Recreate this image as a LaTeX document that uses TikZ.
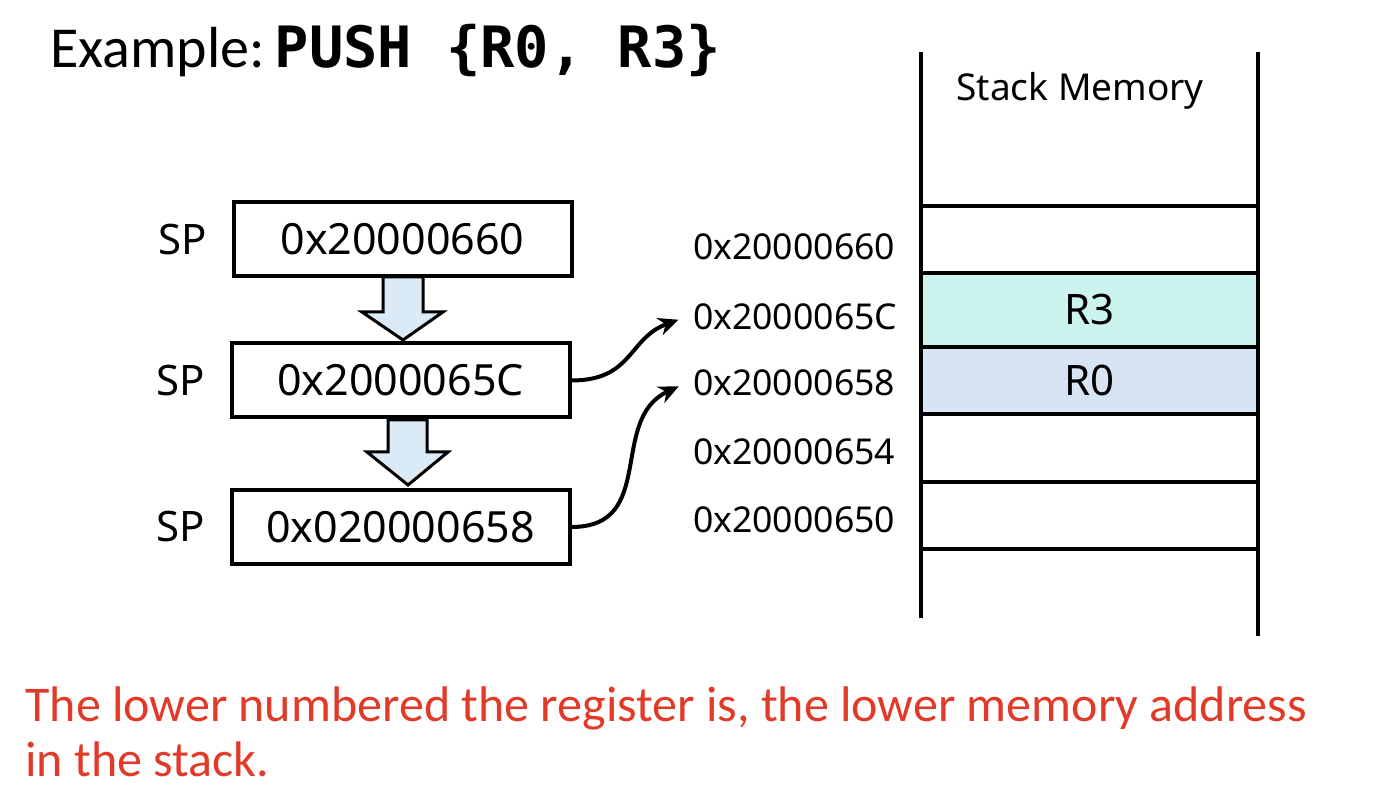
\documentclass[tikz,border=0pt]{standalone}
\usepackage{fontspec}
\setmainfont{Noto Sans}
\newfontfamily\notefont{Carlito}
\setmonofont{DejaVu Sans Mono}
\usetikzlibrary{arrows.meta}
\definecolor{noteRed}{RGB}{226,58,40}
\definecolor{arrowBlue}{RGB}{218,235,247}
\definecolor{cellCyan}{RGB}{204,243,238}
\definecolor{cellBlue}{RGB}{214,228,243}

\begin{document}
\begin{tikzpicture}[x=0.5pt,y=-0.5pt,
  spbox/.style={draw,line width=2pt,minimum width=169pt,minimum height=37pt,font=\fontsize{21.5}{25}\selectfont},
  cell/.style={draw,line width=2pt,minimum width=168.5pt,inner sep=0pt,font=\fontsize{21}{25}\selectfont},
  addr/.style={anchor=west,font=\fontsize{17.8}{21}\selectfont},
  splabel/.style={font=\fontsize{21}{25}\selectfont},
  pusharrow/.style={draw,line width=1.5pt,fill=arrowBlue,line join=miter},
  ptr/.style={line width=2pt,-{Stealth[length=10pt,width=9pt]},shorten >=4pt}]
\useasboundingbox (0,0) rectangle (1388,796);

% Title
\node[anchor=base west,inner sep=0pt] (title) at (50,68)
  {\notefont\fontsize{29}{34}\selectfont Example:\,\texttt{\bfseries\fontsize{28.5}{32}\selectfont PUSH {\{}R0, R3{\}}}};

% SP steps
\draw[pusharrow] (383,277) -- (423,277) -- (423,312) -- (443,312) -- (403,340) -- (362,312) -- (383,312) -- cycle;
\draw[pusharrow] (388,420) -- (427,420) -- (427,452) -- (448,452) -- (408,485) -- (367,452) -- (388,452) -- cycle;
\node[spbox] (b1) at (402.5,239.5) {0x20000660};
\node[spbox] (b2) at (400.5,380.5) {0x2000065C};
\node[spbox] (b3) at (400.5,527) {0x020000658};
\node[splabel] (sp1) at (183,240) {SP};
\node[splabel] (sp2) at (181,381) {SP};
\node[splabel] (sp3) at (181,527) {SP};

% Stack
\draw[line width=2pt] (921,52) -- (921,618);
\draw[line width=2pt] (1258,52) -- (1258,636);
\node[font=\fontsize{18.5}{23}\selectfont] (title2) at (1080,91) {Stack Memory};
\node[cell,minimum height=33.5pt] (c660) at (1089.5,239.5) {};
\node[cell,minimum height=37pt,fill=cellCyan] (c65C) at (1089.5,310) {R3};
\node[cell,minimum height=33.5pt,fill=cellBlue] (c658) at (1089.5,380.5) {R0};
\node[cell,minimum height=34pt] (c654) at (1089.5,448) {};
\node[cell,minimum height=33.5pt] (c650) at (1089.5,515.5) {};

% Addresses
\node[addr] (a660) at (686,247) {0x20000660};
\node[addr] (a65C) at (686,317) {0x2000065C};
\node[addr] (a658) at (686,383) {0x20000658};
\node[addr] (a654) at (686,452) {0x20000654};
\node[addr] (a650) at (686,520) {0x20000650};

% Pointers
\draw[ptr] (b2.east) to[out=0,in=200,looseness=1.2] (a65C.west);
\draw[ptr] (b3.east) to[out=0,in=205,looseness=1.2] (a658.west);

% Note
\node[anchor=north west,align=left,text=noteRed,inner sep=0pt,font=\notefont\fontsize{25}{27.5}\selectfont] (note) at (25,686)
  {The lower numbered the register is, the lower memory address\\in the stack.};
\end{tikzpicture}
\end{document}
